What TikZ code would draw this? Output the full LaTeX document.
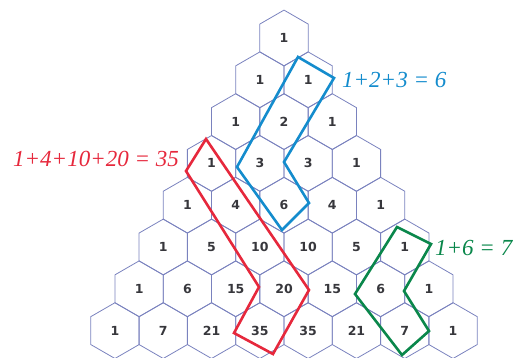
\documentclass[tikz,border=0pt]{standalone}
\usepackage{fontspec}
\setmainfont{Liberation Serif}
\newfontfamily\numfont{DejaVu Sans}
\usepackage{xcolor}
\usetikzlibrary{shapes.geometric}
\definecolor{hexline}{RGB}{122,130,190}
\definecolor{numgray}{RGB}{55,55,60}
\definecolor{sumblue}{RGB}{20,140,205}
\definecolor{sumred}{RGB}{230,40,60}
\definecolor{sumgreen}{RGB}{10,135,75}
\tikzset{
  hexa/.style={draw=hexline, line width=0.8pt, regular polygon, regular polygon sides=6,
    shape border rotate=30, minimum size=55.8pt, inner sep=0pt,
    text=numgray, font=\numfont\bfseries\fontsize{12.5}{14}\selectfont},
  diag/.style={line width=2.6pt, line join=miter},
  sumlabel/.style={anchor=west, inner sep=0pt, font=\itshape\fontsize{23}{27}\selectfont}
}

\begin{document}
\begin{tikzpicture}[x=1pt,y=-1pt]
\useasboundingbox (0,0) rectangle (517,357);
\clip (0,0) rectangle (517,357);
% the triangle of hexagons
\foreach \n in {0,...,7}{
  \foreach \k in {0,...,\n}{
    \pgfmathtruncatemacro{\c}{round(factorial(\n)/(factorial(\k)*factorial(\n-\k)))}
    \node[hexa] (h\n-\k) at ({284+(\k-\n/2)*48.3},{38+\n*41.8}) {\c};
  }
}
%
\draw[diag, sumblue] (298,57) -- (334,78) -- (284,162) -- (309,203) -- (282,230) -- (237,167) -- cycle;
\draw[diag, sumred] (206,139) -- (309,290) -- (273,354) -- (234,333) -- (259,287) -- (186,171) -- cycle;
\draw[diag, sumgreen] (397,227) -- (431,244) -- (404,291) -- (429,331) -- (402,355) -- (355,294) -- cycle; % new
%
\node[sumlabel, text=sumblue] (six) at (342,80) {1+2+3 = 6};
\node[sumlabel, text=sumred] (thirtyfive) at (13,159) {1+4+10+20 = 35};
\node[sumlabel, text=sumgreen] (seven) at (435,248) {1+6 = 7};
\end{tikzpicture}
\end{document}
